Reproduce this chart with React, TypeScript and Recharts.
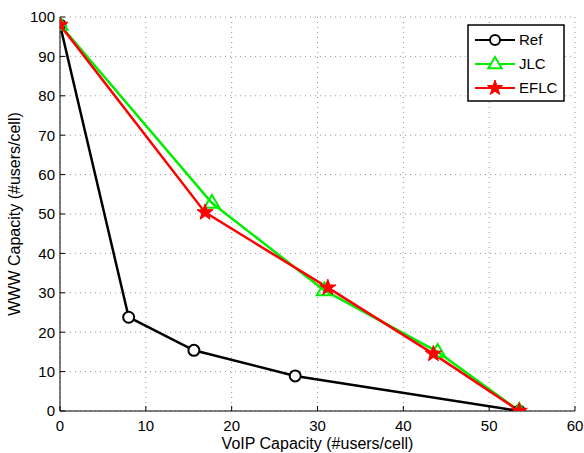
import React from 'react';
import {
  LineChart,
  Line,
  XAxis,
  YAxis,
  CartesianGrid,
} from 'recharts';

const voipRef = [0, 8, 15.6, 27.4, 53.5];
const wwwRef = [98, 23.8, 15.4, 8.9, 0];
const voipJlc = [0, 17.7, 30.8, 44, 53.5];
const wwwJlc = [98, 52.8, 30.6, 15, 0];
const voipEflc = [0, 16.9, 31.2, 43.5, 53.5];
const wwwEflc = [98, 50.4, 31.3, 14.5, 0];
const xTicks = [0, 10, 20, 30, 40, 50, 60];
const yTicks = [0, 10, 20, 30, 40, 50, 60, 70, 80, 90, 100];

const toPoints = (xs: number[], ys: number[]) => xs.map((x, i) => ({ x, y: ys[i] }));
const refData = toPoints(voipRef, wwwRef);
const jlcData = toPoints(voipJlc, wwwJlc);
const eflcData = toPoints(voipEflc, wwwEflc);

const FONT = '"Liberation Sans", Arial, sans-serif';
const tickStyle = { fontSize: 15, fill: '#000', fontFamily: FONT };

const starPath = (cx: number, cy: number, r: number) => {
  const pts: string[] = [];
  for (let i = 0; i < 10; i++) {
    const rad = i % 2 === 0 ? r : r * 0.4;
    const a = -Math.PI / 2 + (i * Math.PI) / 5;
    pts.push(`${cx + rad * Math.cos(a)},${cy + rad * Math.sin(a)}`);
  }
  return `M${pts.join('L')}Z`;
};

const triPath = (cx: number, cy: number, r: number) =>
  `M${cx},${cy - r}L${cx + r * 0.95},${cy + r * 0.6}L${cx - r * 0.95},${cy + r * 0.6}Z`;

const CircleDot = (p: any) => (
  <circle key={p.index} cx={p.cx} cy={p.cy} r={5.5} fill="#fff" stroke="#000" strokeWidth={2} />
);
const TriDot = (p: any) => (
  <path key={p.index} d={triPath(p.cx, p.cy, 8)} fill="none" stroke="#00ee00" strokeWidth={2} />
);
const StarDot = (p: any) => (
  <path key={p.index} d={starPath(p.cx, p.cy, 8.5)} fill="#ff0000" stroke="#ff0000" strokeWidth={1} />
);

const LegendBox = () => {
  const items = [
    { name: 'Ref', color: '#000', mark: 'c' },
    { name: 'JLC', color: '#00ee00', mark: 't' },
    { name: 'EFLC', color: '#ff0000', mark: 's' },
  ];
  return (
    <svg width={98} height={78} style={{ display: 'block' }}>
      <rect x={1} y={1} width={96} height={76} fill="#fff" stroke="#000" strokeWidth={1.5} />
      {items.map((it, i) => {
        const cy = 16 + i * 24;
        return (
          <g key={it.name}>
            <line x1={8} x2={48} y1={cy} y2={cy} stroke={it.color} strokeWidth={2} />
            {it.mark === 'c' && <circle cx={28} cy={cy} r={5} fill="#fff" stroke="#000" strokeWidth={2} />}
            {it.mark === 't' && <path d={triPath(28, cy, 7)} fill="#fff" stroke={it.color} strokeWidth={2} />}
            {it.mark === 's' && <path d={starPath(28, cy, 8)} fill={it.color} stroke={it.color} />}
            <text x={52} y={cy + 5} fontSize={15} fontFamily={FONT} fill="#000">
              {it.name}
            </text>
          </g>
        );
      })}
    </svg>
  );
};

export default function App() {
  return (
    <div style={{ position: 'fixed', left: 0, top: 0, width: 584, height: 453, background: '#fff' }}>
      <LineChart width={584} height={453} margin={{ top: 17, right: 9, bottom: 0, left: 0 }}>
        <CartesianGrid stroke="#999" strokeDasharray="1 4" />
        <XAxis
          type="number"
          dataKey="x"
          domain={[0, 60]}
          ticks={xTicks}
          allowDataOverflow
          height={42}
          stroke="#000"
          tickSize={-5}
          tickMargin={14}
          tick={tickStyle}
          label={{ value: 'VoIP Capacity (#users/cell)', position: 'insideBottom', offset: 4, fontSize: 16, fill: '#000', fontFamily: FONT }}
        />
        <XAxis
          xAxisId="top"
          orientation="top"
          type="number"
          dataKey="x"
          domain={[0, 60]}
          ticks={xTicks}
          allowDataOverflow
          height={0}
          stroke="#000"
          tickSize={-5}
          tick={false}
        />
        <YAxis
          type="number"
          dataKey="y"
          domain={[0, 100]}
          ticks={yTicks}
          allowDataOverflow
          width={60}
          stroke="#000"
          tickSize={-5}
          tickMargin={10}
          tick={tickStyle}
          label={{ value: 'WWW Capacity (#users/cell)', angle: -90, position: 'insideLeft', offset: 14, style: { textAnchor: 'middle' }, fontSize: 16, fill: '#000', fontFamily: FONT }}
        />
        <YAxis
          yAxisId="right"
          orientation="right"
          type="number"
          dataKey="y"
          domain={[0, 100]}
          ticks={yTicks}
          allowDataOverflow
          width={0}
          stroke="#000"
          tickSize={-5}
          tick={false}
        />
        <Line data={refData} dataKey="y" stroke="#000" strokeWidth={2.5} dot={CircleDot} isAnimationActive={false} />
        <Line data={jlcData} dataKey="y" stroke="#00ee00" strokeWidth={2.5} dot={TriDot} isAnimationActive={false} />
        <Line data={eflcData} dataKey="y" stroke="#ff0000" strokeWidth={2.5} dot={StarDot} isAnimationActive={false} />
      </LineChart>
      <div style={{ position: 'absolute', left: 467, top: 24 }}>
        <LegendBox />
      </div>
    </div>
  );
}
